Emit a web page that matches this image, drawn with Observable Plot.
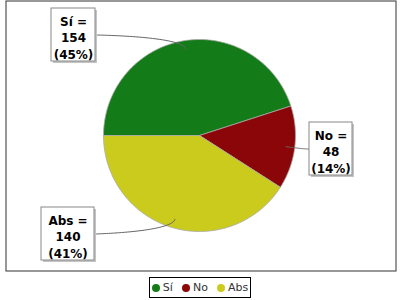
<!DOCTYPE html>
<html><head><meta charset="utf-8">
<script src="https://cdn.jsdelivr.net/npm/d3@7"></script>
<script src="https://cdn.jsdelivr.net/npm/@observablehq/plot@0.6"></script>
<style>
body{margin:0;background:#fff;font-family:"DejaVu Sans",sans-serif;}
#chart svg{display:block;}
#legend{box-sizing:border-box;margin:3px 0 0 149px;width:102px;height:21px;border:1px solid #000;display:flex;align-items:center;justify-content:center;gap:9px;font:11px "DejaVu Sans",sans-serif;color:#333;}
#legend .it{display:flex;align-items:center;gap:3px;}
#legend .dot{width:8px;height:8px;border-radius:50%;display:inline-block;}
</style></head><body>
<div id="chart"></div>
<div id="legend"></div>
<script>
// ---- data ----
const categories = ["Sí", "No", "Abs"];
const values = [154, 48, 140];
const colors = ["#137c18", "#8a0608", "#cbcb1d"];

// ---- layout (pixels) ----
const W = 400, H = 274;
const CX = 199, CY = 135, R = 96;
const labelBoxes = [
  {x1: 51, y1: 8, x2: 95, y2: 61, side: "left"},
  {x1: 309, y1: 122, x2: 352, y2: 175, side: "right"},
  {x1: 41, y1: 207, x2: 94, y2: 260, side: "left"}
];
const px = x => (x - CX) / R;
const py = y => (CY - y) / R;

const total = d3.sum(values);
const arcs = d3.pie().sort(null).startAngle(-Math.PI / 2).endAngle(3 * Math.PI / 2)(values);

// slice polygons
const slicePts = [];
arcs.forEach((a, i) => {
  const name = categories[i];
  slicePts.push({name, x: 0, y: 0});
  const n = Math.max(2, Math.ceil((a.endAngle - a.startAngle) / (Math.PI / 180)));
  for (let k = 0; k <= n; k++) {
    const t = a.startAngle + (a.endAngle - a.startAngle) * k / n;
    slicePts.push({name, x: Math.sin(t), y: Math.cos(t)});
  }
  slicePts.push({name, x: 0, y: 0});
});

// labels
const labels = categories.map((c, i) => {
  const b = labelBoxes[i];
  return {
    name: c,
    x1: px(b.x1), x2: px(b.x2), y1: py(b.y1), y2: py(b.y2),
    tx: px((b.x1 + b.x2) / 2), ty: py((b.y1 + b.y2) / 2 + 2),
    text: `${c} =\n${values[i]}\n(${Math.round(values[i] / total * 100)}%)`
  };
});

// leader curves (cubic bezier)
const leaderPts = [];
arcs.forEach((a, i) => {
  const b = labelBoxes[i];
  const mid = (a.startAngle + a.endAngle) / 2;
  const cyB = py((b.y1 + b.y2) / 2);
  const p0 = b.side === "left" ? [px(b.x2), cyB] : [px(b.x1), cyB];
  const p1 = b.side === "left" ? [-1.1, cyB] : [1.1, cyB];
  const p2 = [1.05 * Math.sin(mid), 1.05 * Math.cos(mid)];
  const p3 = [0.91 * Math.sin(mid), 0.91 * Math.cos(mid)];
  for (let k = 0; k <= 40; k++) {
    const t = k / 40, u = 1 - t;
    const w = [u*u*u, 3*u*u*t, 3*u*t*t, t*t*t];
    leaderPts.push({
      name: categories[i],
      x: w[0]*p0[0] + w[1]*p1[0] + w[2]*p2[0] + w[3]*p3[0],
      y: w[0]*p0[1] + w[1]*p1[1] + w[2]*p2[1] + w[3]*p3[1]
    });
  }
});

const mL = 5.5, mR = 4.5, mT = 0.5, mB = 3.5;
const chart = Plot.plot({
  width: W, height: H,
  marginLeft: mL, marginRight: mR, marginTop: mT, marginBottom: mB,
  x: {domain: [px(mL), px(W - mR)], axis: null},
  y: {domain: [py(H - mB), py(mT)], axis: null},
  color: {domain: categories, range: colors},
  style: {background: "#fff", overflow: "visible"},
  marks: [
    Plot.frame({stroke: "#333", strokeWidth: 1}),
    Plot.line(slicePts, {x: "x", y: "y", z: "name", fill: "name", stroke: "#a8a8a8", strokeWidth: 0.8}),
    Plot.line(leaderPts, {x: "x", y: "y", z: "name", stroke: "#666", strokeWidth: 1}),
    Plot.rect(labels, {x1: "x1", x2: "x2", y1: "y1", y2: "y2", fill: "#c4c4c4", dx: 2, dy: 2}),
    Plot.rect(labels, {x1: "x1", x2: "x2", y1: "y1", y2: "y2", fill: "#fff", stroke: "#888", strokeWidth: 1}),
    Plot.text(labels, {x: "tx", y: "ty", text: "text", fontWeight: "bold", fontSize: 12, fontFamily: "DejaVu Sans", lineHeight: 1.39, fill: "#000"})
  ]
});
document.getElementById("chart").appendChild(chart);

const legend = document.getElementById("legend");
categories.forEach((c, i) => {
  const it = document.createElement("span");
  it.className = "it";
  const dot = document.createElement("span");
  dot.className = "dot";
  dot.style.background = colors[i];
  const tx = document.createElement("span");
  tx.textContent = c;
  it.appendChild(dot); it.appendChild(tx);
  legend.appendChild(it);
});
</script>
</body></html>
